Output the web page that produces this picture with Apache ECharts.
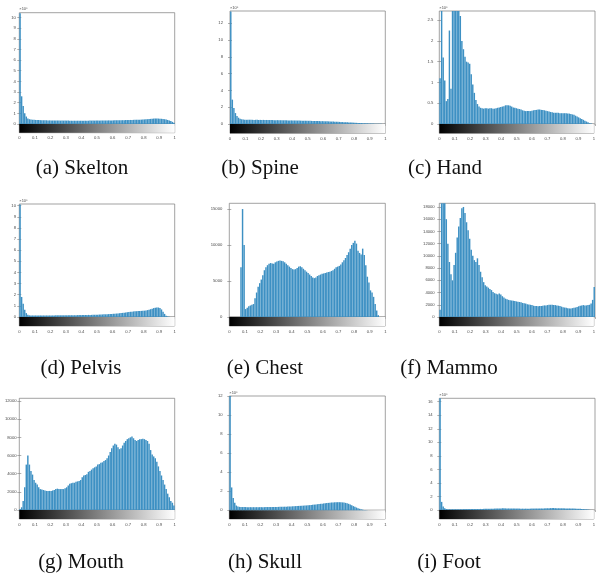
<!DOCTYPE html>
<html><head><meta charset="utf-8">
<script src="https://cdn.jsdelivr.net/npm/echarts@6/dist/echarts.min.js"></script>
<style>html,body{margin:0;padding:0;background:#fff}#c{width:598px;height:579px}</style>
</head><body><div id="c"></div>
<script>
// ---------------- DATA ----------------
const grayLevelRange = [0, 1];
const xTickValues = [0, 0.1, 0.2, 0.3, 0.4, 0.5, 0.6, 0.7, 0.8, 0.9, 1];
const captions = ['(a) Skelton', '(b) Spine', '(c) Hand', '(d) Pelvis', '(e) Chest', '(f) Mammo', '(g) Mouth', '(h) Skull', '(i) Foot'];
const exponentLabels = ['×10⁵', '×10⁵', '×10⁵', '×10⁵', '', '', '', '×10⁵', '×10⁵'];

const yTicksSkelton = [0,1,2,3,4,5,6,7,8,9,10];
const yTicksSpine = [0,2,4,6,8,10,12];
const yTicksHand = [0,0.5,1,1.5,2,2.5];
const yTicksPelvis = [0,1,2,3,4,5,6,7,8,9,10];
const yTicksChest = [0,5000,10000,15000];
const yTicksMammo = [0,2000,4000,6000,8000,10000,12000,14000,16000,18000];
const yTicksMouth = [0,2000,4000,6000,8000,10000,12000];
const yTicksSkull = [0,2,4,6,8,10,12];
const yTicksFoot = [0,2,4,6,8,10,12,14,16];

const yMaxValues = [10.45, 13.45, 2.72, 10.15, 15800, 18600, 12300, 12, 16.5];

const skeltonCounts = [10.4,2.6,1.7,1.0,0.7,0.52,0.45,0.42,0.40,0.39,
 0.38,0.37,0.37,0.36,0.36,0.35,0.35,0.35,0.34,0.34,
 0.34,0.33,0.33,0.33,0.33,0.32,0.32,0.32,0.32,0.32,
 0.32,0.32,0.31,0.31,0.31,0.31,0.31,0.31,0.31,0.31,
 0.31,0.31,0.31,0.31,0.31,0.32,0.32,0.32,0.32,0.32,
 0.32,0.32,0.33,0.33,0.33,0.33,0.33,0.34,0.34,0.34,
 0.34,0.35,0.35,0.35,0.35,0.36,0.36,0.36,0.37,0.37,
 0.37,0.38,0.38,0.39,0.39,0.40,0.40,0.41,0.41,0.42,
 0.43,0.44,0.45,0.46,0.48,0.50,0.51,0.52,0.52,0.51,
 0.50,0.49,0.47,0.45,0.42,0.38,0.33,0.27,0.20,0.12];

const spineCounts = [13.4,2.9,1.9,1.3,0.95,0.75,0.62,0.56,0.53,0.51,
 0.50,0.50,0.51,0.50,0.50,0.49,0.50,0.50,0.49,0.49,
 0.49,0.49,0.48,0.48,0.48,0.47,0.47,0.47,0.46,0.46,
 0.46,0.45,0.45,0.45,0.44,0.44,0.44,0.43,0.43,0.43,
 0.42,0.42,0.42,0.41,0.41,0.40,0.40,0.40,0.39,0.39,
 0.38,0.38,0.37,0.37,0.36,0.36,0.35,0.35,0.34,0.34,
 0.33,0.32,0.32,0.31,0.30,0.29,0.29,0.28,0.27,0.26,
 0.25,0.24,0.23,0.22,0.21,0.20,0.19,0.18,0.17,0.16,
 0.15,0.14,0.13,0.12,0.11,0.10,0.09,0.08,0.08,0.07,
 0.06,0.05,0.05,0.04,0.03,0.03,0.02,0.02,0.01,0.01];

const handCounts = [1.1,3.0,1.6,1.05,0.55,0.6,2.25,0.85,3.0,3.0,
 3.0,3.0,3.0,2.6,2.0,1.8,1.62,1.5,1.48,1.45,
 1.2,0.95,0.75,0.58,0.48,0.42,0.39,0.38,0.37,0.38,
 0.38,0.37,0.38,0.38,0.37,0.37,0.38,0.39,0.40,0.41,
 0.42,0.43,0.45,0.45,0.45,0.44,0.42,0.40,0.39,0.38,
 0.37,0.36,0.35,0.33,0.32,0.31,0.31,0.31,0.31,0.32,
 0.33,0.34,0.34,0.35,0.35,0.34,0.34,0.33,0.32,0.31,
 0.30,0.29,0.28,0.27,0.27,0.27,0.27,0.26,0.26,0.26,
 0.26,0.26,0.25,0.25,0.24,0.23,0.22,0.20,0.18,0.16,
 0.14,0.12,0.10,0.08,0.06,0.04,0.02,0.01,0,0];

const pelvisCounts = [10.1,1.8,1.2,0.65,0.35,0.2,0.15,0.14,0.14,0.14,
 0.14,0.14,0.14,0.14,0.14,0.14,0.14,0.14,0.14,0.14,
 0.14,0.14,0.14,0.15,0.15,0.15,0.15,0.15,0.15,0.15,
 0.15,0.15,0.15,0.16,0.16,0.16,0.16,0.17,0.17,0.17,
 0.17,0.18,0.18,0.18,0.19,0.19,0.19,0.20,0.20,0.21,
 0.21,0.22,0.22,0.23,0.24,0.24,0.25,0.26,0.27,0.28,
 0.29,0.30,0.31,0.32,0.34,0.35,0.37,0.39,0.41,0.43,
 0.45,0.47,0.48,0.50,0.51,0.52,0.53,0.54,0.55,0.56,
 0.57,0.59,0.62,0.66,0.70,0.75,0.80,0.84,0.86,0.85,
 0.80,0.68,0.48,0.28,0.12,0.05,0.02,0.01,0,0];

const chestCounts = [0,0,0,0,0,0,0,6900,15000,10000,
 1100,1300,1500,1600,1700,1800,2600,3400,4200,4700,
 5200,5800,6500,6900,7200,7400,7500,7450,7400,7600,
 7700,7800,7850,7800,7750,7600,7400,7200,7000,6800,
 6650,6600,6650,6800,7000,7050,6900,6700,6500,6300,
 6100,5900,5700,5500,5400,5500,5700,5800,5900,6000,
 6050,6100,6200,6250,6300,6400,6500,6700,6900,7000,
 7100,7300,7600,7900,8200,8600,9000,9500,10000,10300,
 10600,10200,9200,8900,8700,9500,8600,7200,5600,4800,
 3700,3400,2800,1800,900,250,0,0,0,0];

const mammoCounts = [1200,22000,22000,20000,16000,12000,9000,7000,6000,8500,
 10500,13000,14800,16200,17800,18000,17000,15500,14200,12800,
 11000,10000,9300,9000,9600,8500,7400,6500,5700,5200,
 5000,4800,4600,4400,4100,3900,3800,3700,3850,3700,
 3400,3200,3000,2900,2800,2750,2700,2650,2600,2550,
 2500,2450,2400,2300,2250,2200,2100,2050,2000,1950,
 1850,1800,1800,1750,1800,1800,1850,1900,1900,1950,
 2000,2000,2000,1950,1950,1900,1850,1800,1700,1600,
 1550,1500,1450,1400,1400,1450,1500,1550,1650,1750,
 1850,1900,1950,1900,1900,1950,2000,2200,2800,4900];

const mouthCounts = [100,300,1000,2500,5000,6000,5000,4300,3900,3300,
 3000,2800,2500,2300,2250,2200,2150,2100,2100,2100,
 2100,2150,2200,2300,2350,2300,2300,2300,2300,2400,
 2500,2700,2900,2950,3000,3000,3100,3150,3200,3300,
 3600,3800,3850,3950,4200,4300,4450,4600,4700,4800,
 5000,5050,5200,5250,5400,5500,5700,6000,6400,6800,
 7100,7300,7200,6900,6700,6800,7100,7400,7600,7800,
 7900,8000,8100,7900,7700,7600,7700,7800,7800,7850,
 7800,7700,7600,7300,6600,6100,5900,5700,5300,4800,
 4300,3800,3300,2800,2300,1800,1400,1000,800,500];

const skullCounts = [12,2.4,1.3,0.8,0.5,0.4,0.36,0.35,0.34,0.34,
 0.34,0.33,0.33,0.33,0.33,0.33,0.33,0.33,0.33,0.33,
 0.33,0.33,0.33,0.34,0.34,0.34,0.34,0.35,0.35,0.35,
 0.35,0.36,0.36,0.37,0.37,0.38,0.38,0.39,0.40,0.41,
 0.42,0.43,0.44,0.45,0.46,0.47,0.48,0.49,0.50,0.51,
 0.52,0.54,0.56,0.58,0.60,0.62,0.64,0.66,0.68,0.70,
 0.72,0.74,0.76,0.78,0.80,0.82,0.83,0.84,0.85,0.85,
 0.85,0.84,0.83,0.81,0.78,0.74,0.68,0.60,0.52,0.44,
 0.36,0.29,0.22,0.16,0.11,0.07,0.04,0.02,0.01,0,
 0,0,0,0,0,0,0,0,0,0];

const footCounts = [16.5,1.2,0.5,0.25,0.15,0.12,0.12,0.12,0.12,0.12,
 0.12,0.12,0.12,0.12,0.12,0.13,0.13,0.13,0.13,0.13,
 0.13,0.14,0.14,0.14,0.15,0.15,0.16,0.16,0.17,0.17,
 0.18,0.18,0.19,0.19,0.20,0.21,0.22,0.22,0.23,0.24,
 0.26,0.25,0.24,0.24,0.23,0.23,0.22,0.22,0.22,0.21,
 0.21,0.21,0.20,0.20,0.20,0.20,0.20,0.20,0.20,0.21,
 0.21,0.21,0.22,0.22,0.23,0.23,0.24,0.24,0.25,0.26,
 0.27,0.28,0.28,0.28,0.27,0.27,0.26,0.26,0.25,0.25,
 0.24,0.24,0.23,0.23,0.22,0.22,0.21,0.20,0.19,0.18,
 0.17,0.15,0.13,0.11,0.09,0.06,0.03,0.01,0,0];

// ---------------- LAYOUT (positions / styles) ----------------
const panelCounts = [skeltonCounts, spineCounts, handCounts, pelvisCounts, chestCounts, mammoCounts, mouthCounts, skullCounts, footCounts];
const panelYTicks = [yTicksSkelton, yTicksSpine, yTicksHand, yTicksPelvis, yTicksChest, yTicksMammo, yTicksMouth, yTicksSkull, yTicksFoot];
const layout = [
  {L:19.3, R:174.7, T:12.7, Z:124, B:132.7, gap:3.5, cx:82, cy:168},
  {L:230, R:385.3, T:11, Z:124, B:133.3, gap:7, cx:260, cy:168},
  {L:439.3, R:595, T:11, Z:124, B:133.3, gap:6, cx:445, cy:168},
  {L:19.3, R:174.7, T:204, Z:317, B:326, gap:3.3, cx:81, cy:368},
  {L:229.3, R:385.3, T:203.3, Z:317, B:326, gap:7, cx:265, cy:368},
  {L:439.3, R:595, T:203.3, Z:317, B:326, gap:4.6, cx:449, cy:368},
  {L:19.3, R:174.7, T:398.3, Z:510, B:519, gap:2.7, cx:81, cy:562},
  {L:229.3, R:385.3, T:396, Z:510.3, B:519, gap:6.6, cx:265, cy:562},
  {L:439.3, R:595, T:398.3, Z:510, B:519, gap:6.6, cx:449, cy:562}
];

const BOX = '#7a7a7a';
const LBL = '#4a4a4a';
const FONT = 'Liberation Sans, Arial, sans-serif';
const BAR = '#3d90c3';

const grids = [], xAxes = [], yAxes = [], series = [], graphics = [];
layout.forEach((g, i) => {
  const hg = grids.length;
  grids.push({left: g.L, top: g.T, width: g.R - g.L, height: g.Z - g.T, show: true, borderColor: BOX, borderWidth: 0.7, containLabel: false});
  const cg = grids.length;
  grids.push({left: g.L, top: g.Z, width: g.R - g.L, height: g.B - g.Z, show: true, borderColor: BOX, borderWidth: 0.7, containLabel: false});
  const ticks = panelYTicks[i];
  const ymax = yMaxValues[i];
  const hxb = xAxes.length;
  xAxes.push({type: 'value', gridIndex: hg, min: grayLevelRange[0], max: grayLevelRange[1], position: 'bottom',
    axisLine: {show: false}, axisTick: {show: false}, axisLabel: {show: false}, splitLine: {show: false}});
  xAxes.push({type: 'value', gridIndex: hg, min: grayLevelRange[0], max: grayLevelRange[1], position: 'top',
    axisLine: {show: false}, axisTick: {show: true, inside: true, length: 2, customValues: xTickValues, lineStyle: {color: BOX, width: 0.6}},
    axisLabel: {show: false}, splitLine: {show: false}});
  const cx = xAxes.length;
  xAxes.push({type: 'value', gridIndex: cg, min: grayLevelRange[0], max: grayLevelRange[1], position: 'bottom',
    axisLine: {show: false}, axisTick: {show: false},
    axisLabel: {show: true, customValues: xTickValues, margin: 3.5, fontSize: 4.2, color: LBL, fontFamily: FONT,
      formatter: v => String(Math.round(v * 10) / 10)},
    splitLine: {show: false}});
  const hy = yAxes.length;
  yAxes.push({type: 'value', gridIndex: hg, min: 0, max: ymax, position: 'left',
    axisLine: {show: false},
    axisTick: {show: true, inside: true, length: 2, customValues: ticks, lineStyle: {color: BOX, width: 0.6}},
    axisLabel: {show: true, customValues: ticks, margin: g.gap, fontSize: 4.2, color: LBL, fontFamily: FONT,
      formatter: v => String(v)},
    splitLine: {show: false},
    name: exponentLabels[i], nameLocation: 'end', nameGap: 1.5,
    nameTextStyle: {align: 'left', verticalAlign: 'bottom', fontSize: 4, color: LBL, fontFamily: FONT}});
  yAxes.push({type: 'value', gridIndex: hg, min: 0, max: ymax, position: 'right',
    axisLine: {show: false},
    axisTick: {show: true, inside: true, length: 2, customValues: ticks, lineStyle: {color: BOX, width: 0.6}},
    axisLabel: {show: false}, splitLine: {show: false}});
  const cy = yAxes.length;
  yAxes.push({type: 'value', gridIndex: cg, min: 0, max: 1, show: false});

  const counts = panelCounts[i];
  const n = counts.length;
  const span = grayLevelRange[1] - grayLevelRange[0];
  series.push({
    type: 'bar', xAxisIndex: hxb, yAxisIndex: hy,
    data: counts.map((v, k) => [grayLevelRange[0] + (k + 0.5) * span / n, v]),
    barWidth: 1.45, itemStyle: {color: BAR}, clip: true, silent: true, animation: false
  });
  series.push({
    type: 'custom', xAxisIndex: cx, yAxisIndex: cy, data: [[grayLevelRange[0], 0]], silent: true, animation: false,
    renderItem: (params, api) => {
      const p0 = api.coord([grayLevelRange[0], 0]);
      const p1 = api.coord([grayLevelRange[1], 1]);
      return {type: 'rect', shape: {x: p0[0], y: p1[1], width: p1[0] - p0[0], height: p0[1] - p1[1]},
        style: {fill: new echarts.graphic.LinearGradient(0, 0, 1, 0, [{offset: 0, color: '#000'}, {offset: 1, color: '#fff'}])}};
    }
  });
  graphics.push({type: 'text', x: g.cx, y: g.cy, style: {text: captions[i], font: '21px "Liberation Serif", "Times New Roman", serif', fill: '#111', textAlign: 'center', textVerticalAlign: 'middle'}});
});

const chart = echarts.init(document.getElementById('c'), null, {renderer: 'canvas'});
chart.setOption({
  animation: false,
  backgroundColor: '#fff',
  grid: grids, xAxis: xAxes, yAxis: yAxes, series: series, graphic: graphics
});
</script></body></html>
